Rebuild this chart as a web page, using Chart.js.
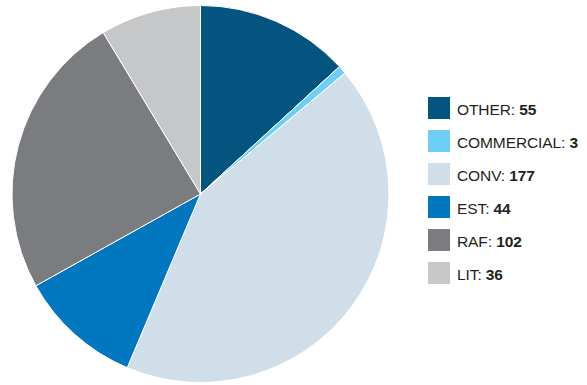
<!DOCTYPE html>
<html>
<head>
<meta charset="utf-8">
<script src="https://cdn.jsdelivr.net/npm/chart.js@4"></script>
<style>
  html, body { margin: 0; padding: 0; background: #fff; }
  body { width: 587px; height: 385px; position: relative; overflow: hidden; }
  #pie-wrap { position: absolute; left: 0; top: 0; width: 401px; height: 385px; }
  #legend { position: absolute; left: 428px; top: 97px; font-family: "Liberation Sans", Arial, sans-serif; font-size: 15.5px; color: #231f20; }
  .legend-row { display: flex; align-items: center; height: 33px; }
  .legend-box { width: 22px; height: 22px; margin-right: 7px; align-self: flex-start; }
  .legend-text { position: relative; top: -4px; letter-spacing: -0.1px; }
  .legend-text b { font-weight: bold; }
</style>
</head>
<body>
<div id="pie-wrap"><canvas id="pie"></canvas></div>
<div id="legend"></div>
<script>
const labels = ['OTHER', 'COMMERCIAL', 'CONV', 'EST', 'RAF', 'LIT'];
const counts = [55, 3, 177, 44, 102, 36];
const colors = ['#03547e', '#6dcff6', '#d0dee9', '#0077bf', '#7b7c80', '#c6c7c9'];

const renderLegend = () => {
  const legend = document.getElementById('legend');
  legend.innerHTML = labels
    .map(
      (name, i) => `
    <div class="legend-row">
      <div class="legend-box" style="background:${colors[i]}"></div>
      <span class="legend-text">${name}: <b>${counts[i]}</b></span>
    </div>`
    )
    .join('');
};

const renderPie = () => {
  const canvas = document.getElementById('pie');
  new Chart(canvas, {
    type: 'pie',
    data: {
      labels,
      datasets: [
        {
          data: counts,
          backgroundColor: colors,
          borderColor: '#ffffff',
          borderWidth: 1,
        },
      ],
    },
    options: {
      responsive: true,
      maintainAspectRatio: false,
      animation: false,
      events: [],
      layout: { padding: { top: 5, bottom: 2, left: 0, right: 0 } },
      plugins: {
        legend: { display: false },
        tooltip: { enabled: false },
      },
    },
  });
};

renderLegend();
renderPie();
</script>
</body>
</html>
